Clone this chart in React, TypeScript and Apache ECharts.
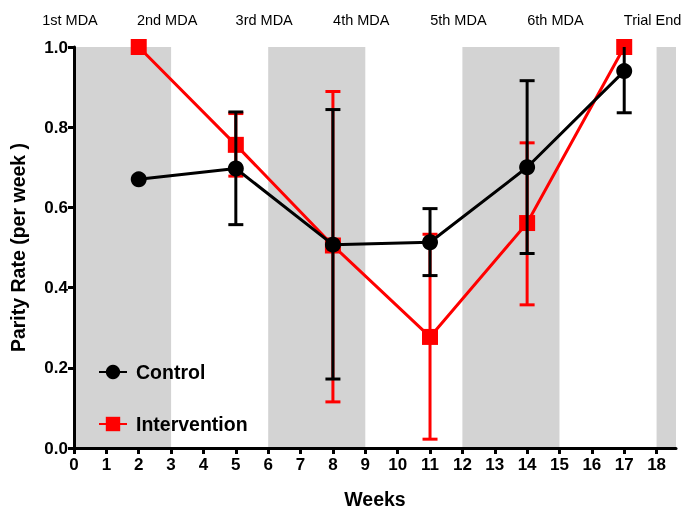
import React, { useEffect, useRef } from "react";
import * as echarts from "echarts";

const weeks = [2, 5, 8, 11, 14, 17];
const controlMean = [0.67, 0.697, 0.507, 0.513, 0.70, 0.94];
const controlLow = [null, 0.557, 0.172, 0.43, 0.485, 0.836];
const controlHigh = [null, 0.838, 0.844, 0.597, 0.916, 1.0];
const interventionMean = [1.0, 0.756, 0.505, 0.277, 0.561, 1.0];
const interventionLow = [null, 0.678, 0.115, 0.022, 0.357, null];
const interventionHigh = [null, 0.834, 0.889, 0.533, 0.761, null];

const xTicks = [0, 1, 2, 3, 4, 5, 6, 7, 8, 9, 10, 11, 12, 13, 14, 15, 16, 17, 18];
const mdaPositions = [0, 3, 6, 9, 12, 15, 18];
const mdaLabels = ["1st MDA", "2nd MDA", "3rd MDA", "4th MDA", "5th MDA", "6th MDA", "Trial End"];
const bands = [[0, 3], [6, 9], [12, 15], [18, 18.6]];

const FONT = "'Liberation Sans', Arial, Helvetica, sans-serif";
const Y_MAX = 1.0;
const X_MAX = 18.6;

function errorData(low: (number | null)[], high: (number | null)[]) {
  const out: number[][] = [];
  weeks.forEach((w, i) => {
    if (low[i] != null && high[i] != null) out.push([w, low[i] as number, high[i] as number]);
  });
  return out;
}

function errorSeries(name: string, color: string, low: (number | null)[], high: (number | null)[], z: number) {
  return {
    type: "custom",
    name: name + " err",
    z,
    silent: true,
    data: errorData(low, high),
    encode: { x: 0, y: [1, 2] },
    renderItem: (params: any, api: any) => {
      const x = api.value(0);
      const lo = api.value(1);
      const hi = api.value(2);
      const pLo = api.coord([x, lo]);
      const pHi = api.coord([x, Math.min(hi, Y_MAX)]);
      const half = 7.5;
      const style = { stroke: color, lineWidth: 3 };
      const children: any[] = [
        { type: "line", shape: { x1: pLo[0], y1: pLo[1], x2: pHi[0], y2: pHi[1] }, style },
        { type: "line", shape: { x1: pLo[0] - half, y1: pLo[1], x2: pLo[0] + half, y2: pLo[1] }, style },
      ];
      if (hi < Y_MAX) {
        children.push({ type: "line", shape: { x1: pHi[0] - half, y1: pHi[1], x2: pHi[0] + half, y2: pHi[1] }, style });
      }
      return { type: "group", children };
    },
  };
}

export default function App() {
  const ref = useRef<HTMLDivElement>(null);
  useEffect(() => {
    if (!ref.current) return;
    const chart = echarts.init(ref.current, null, { renderer: "svg" });
    chart.setOption({
      animation: false,
      textStyle: { fontFamily: FONT },
      grid: { left: 73, right: 10, top: 47, bottom: 66, containLabel: false },
      legend: {
        orient: "vertical",
        left: 93,
        top: 357,
        itemWidth: 28,
        itemHeight: 18,
        itemGap: 32,
        data: ["Control", "Intervention"],
        textStyle: { fontFamily: FONT, fontWeight: "bold", fontSize: 19.5, color: "#000", padding: [0, 0, 0, 4] },
      },
      xAxis: [
        {
          type: "value",
          min: 0,
          max: X_MAX,
          interval: 1,
          z: 10,
          name: "Weeks",
          nameLocation: "middle",
          nameGap: 41,
          nameTextStyle: { fontFamily: FONT, fontWeight: "bold", fontSize: 19.5, color: "#000" },
          splitLine: { show: false },
          axisLine: { show: true, onZero: false, lineStyle: { color: "#000", width: 3 } },
          axisTick: { show: true, length: 6, customValues: xTicks, lineStyle: { color: "#000", width: 3 } },
          axisLabel: {
            customValues: xTicks,
            fontFamily: FONT,
            fontWeight: "bold",
            fontSize: 17,
            color: "#000",
            margin: 8,
          },
        },
        {
          type: "value",
          position: "top",
          min: 0,
          max: X_MAX,
          z: 10,
          splitLine: { show: false },
          axisLine: { show: false },
          axisTick: { show: false },
          axisLabel: {
            customValues: mdaPositions,
            formatter: (v: number) => "{a|" + (mdaLabels[mdaPositions.indexOf(v)] ?? "") + "}",
            rich: {
              a: { fontFamily: FONT, fontSize: 14.5, color: "#000", padding: [0, 8, 0, 0] },
            },
            margin: 20,
          },
        },
      ],
      yAxis: {
        type: "value",
        min: 0,
        max: 1,
        interval: 0.2,
        z: 10,
        name: "Parity Rate (per week )",
        nameLocation: "middle",
        nameGap: 46,
        nameTextStyle: { fontFamily: FONT, fontWeight: "bold", fontSize: 19.5, color: "#000" },
        splitLine: { show: false },
        axisLine: { show: true, onZero: false, lineStyle: { color: "#000", width: 3 } },
        axisTick: { show: true, length: 6, lineStyle: { color: "#000", width: 3 } },
        axisLabel: {
          formatter: (v: number) => v.toFixed(1),
          fontFamily: FONT,
          fontWeight: "bold",
          fontSize: 17,
          color: "#000",
          margin: 6,
        },
      },
      series: [
        {
          type: "line",
          name: "bands",
          data: [],
          z: 0,
          silent: true,
          markArea: {
            silent: true,
            itemStyle: { color: "#d3d3d3" },
            data: bands.map((b) => [
              { xAxis: b[0], yAxis: 0 },
              { xAxis: b[1], yAxis: 1 },
            ]),
          },
        },
        errorSeries("Intervention", "#ff0000", interventionLow, interventionHigh, 2),
        {
          type: "line",
          name: "Intervention",
          z: 3,
          data: weeks.map((w, i) => [w, interventionMean[i]]),
          symbol: "rect",
          symbolSize: 16,
          lineStyle: { color: "#ff0000", width: 3 },
          itemStyle: { color: "#ff0000" },
        },
        errorSeries("Control", "#000000", controlLow, controlHigh, 4),
        {
          type: "line",
          name: "Control",
          z: 5,
          data: weeks.map((w, i) => [w, controlMean[i]]),
          symbol: "circle",
          symbolSize: 16,
          lineStyle: { color: "#000", width: 3 },
          itemStyle: { color: "#000" },
        },
      ],
    });
    return () => chart.dispose();
  }, []);
  return <div ref={ref} style={{ position: "fixed", left: 0, top: 0, width: 686, height: 514 }} />;
}
